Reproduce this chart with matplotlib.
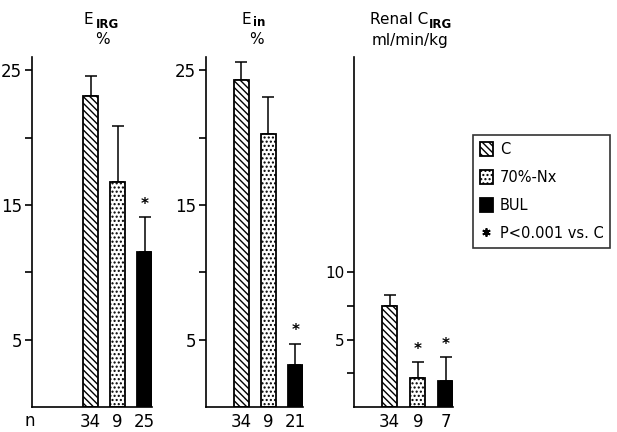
import matplotlib
matplotlib.use("Agg")
import matplotlib.pyplot as plt
from matplotlib.patches import Patch
from matplotlib.lines import Line2D

plt.rcParams.update({
    "font.family": "DejaVu Sans",
    "hatch.linewidth": 1.0,
    "axes.linewidth": 1.2,
})

# data
groups = ["C", "70%-Nx", "BUL"]
e_irg = [23.1, 16.7, 11.5]
e_irg_err = [1.5, 4.2, 2.6]
e_irg_n = ["34", "9", "25"]
e_in = [24.3, 20.3, 3.1]
e_in_err = [1.3, 2.7, 1.6]
e_in_n = ["34", "9", "21"]
c_irg = [7.5, 2.15, 1.9]
c_irg_err = [0.8, 1.2, 1.8]
c_irg_n = ["34", "9", "7"]
e_irg_sig = [False, False, True]
e_in_sig = [False, False, True]
c_irg_sig = [False, True, True]

W, H = 617, 432
fig = plt.figure(figsize=(W / 100, H / 100), dpi=100)

YMAX = 26.0
faces = ["white", "white", "black"]
hatches = ["\\\\\\\\\\", "....", None]


def px_axes(left, right, bottom=407, top=57):
    return fig.add_axes([left / W, 1 - bottom / H, (right - left) / W, (bottom - top) / H])


def ftext(x, y, s, **kw):
    # place text in pixel coordinates of the figure (origin top-left)
    kw.setdefault("va", "center")
    return fig.text(x / W, 1 - y / H, s, **kw)


def panel(ax, vals, errs, ns, sig, xlim, width, yt, ytl):
    x = list(range(len(vals)))
    for i in x:
        ax.bar(i, vals[i], width=width, color=faces[i], edgecolor="black",
               hatch=hatches[i], linewidth=1.3, zorder=2)
        ax.errorbar(i, vals[i], yerr=[[0], [errs[i]]], color="black",
                    capsize=4, elinewidth=1.1, capthick=1.1, zorder=1)
        if sig[i]:
            ax.text(i, vals[i] + errs[i] + 0.4, "*", ha="center", va="bottom",
                    fontsize=11, fontweight="bold")
        ax.text(i, -0.45, ns[i], ha="center", va="top", fontsize=12)
    ax.set_xlim(*xlim)
    ax.set_ylim(0, YMAX)
    ax.set_yticks(yt)
    ax.set_yticklabels(ytl, fontsize=12)
    ax.tick_params(axis="y", direction="out", length=5, width=1.2, pad=2)
    ax.set_xticks([])
    ax.spines["top"].set_visible(False)
    ax.spines["right"].set_visible(False)
    ax.patch.set_alpha(0)


ax1 = px_axes(32, 152)
panel(ax1, e_irg, e_irg_err, e_irg_n, e_irg_sig, (-2.17, 2.27), 0.55,
      [5, 10, 15, 20, 25], ["5", "", "15", "", "25"])
ax2 = px_axes(206, 303)
panel(ax2, e_in, e_in_err, e_in_n, e_in_sig, (-1.31, 2.28), 0.56,
      [5, 10, 15, 20, 25], ["5", "", "15", "", "25"])
ax3 = px_axes(354, 453)
panel(ax3, c_irg, c_irg_err, c_irg_n, c_irg_sig, (-1.27, 2.25), 0.54,
      [2.5, 5, 7.5, 10], ["", "5", "", "10"])
for lab in ax3.get_yticklabels():
    lab.set_fontsize(11)

# n row
ftext(30, 421, "n", ha="center", fontsize=12)

# panel titles
ftext(93, 19, "E", ha="right", fontsize=11)
ftext(96, 24, "IRG", ha="left", fontsize=8.5, fontweight="bold")
ftext(102, 39, "%", ha="center", fontsize=11)
ftext(251, 19, "E", ha="right", fontsize=11)
ftext(253, 23, "in", ha="left", fontsize=8.5, fontweight="bold")
ftext(256, 39, "%", ha="center", fontsize=11)
ftext(428, 19, "Renal C", ha="right", fontsize=11)
ftext(429, 24, "IRG", ha="left", fontsize=8.5, fontweight="bold")
ftext(410, 40, "ml/min/kg", ha="center", fontsize=11)

# legend
handles = [
    Patch(facecolor="white", edgecolor="black", hatch=hatches[0], linewidth=1.3),
    Patch(facecolor="white", edgecolor="black", hatch=hatches[1], linewidth=1.3),
    Patch(facecolor="black", edgecolor="black", linewidth=1.3),
    Line2D([], [], marker=(6, 2, 0), color="black", linestyle="none",
           markersize=6, markeredgewidth=1.3),
]
labels = ["C", "70%-Nx", "BUL", "P<0.001 vs. C"]
leg = fig.legend(handles, labels, loc="upper left",
                 bbox_to_anchor=(473 / W, 1 - 135 / H), fontsize=10.5,
                 frameon=True, fancybox=False, edgecolor="black",
                 handlelength=0.9, handleheight=1.1, handletextpad=0.5,
                 labelspacing=0.9, borderpad=0.45, borderaxespad=0)
leg.get_frame().set_linewidth(1.2)

fig.savefig("out.png", dpi=100)
